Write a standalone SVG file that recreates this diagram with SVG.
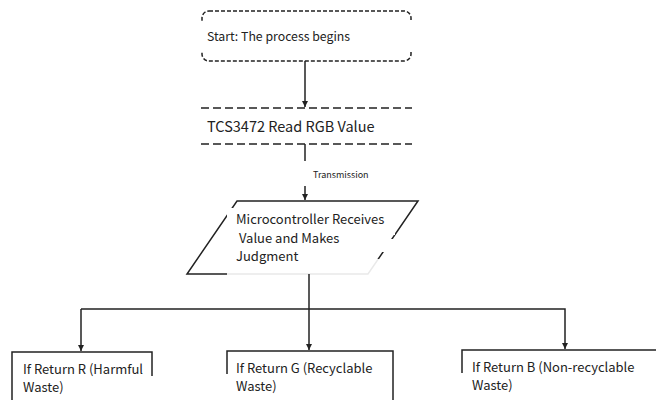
<svg xmlns="http://www.w3.org/2000/svg" width="656" height="400" viewBox="0 0 656 400">
<defs>
<marker id="arr" markerWidth="8" markerHeight="8" refX="6" refY="4" orient="auto" markerUnits="userSpaceOnUse">
<path d="M0,1 L6,4 L0,7 Z" fill="#222"/>
</marker>
<style>
.t{font-family:"Noto Sans CJK SC","Noto Sans",sans-serif;fill:#222}
.s{fill:none;stroke:#222;stroke-width:1.5}
.bg{fill:#fff}
.c{fill:none;stroke:#222;stroke-width:1.5}
</style>
</defs>
<rect width="656" height="400" fill="#fff"/>
<g id="start">
<rect class="s" x="202" y="11" width="209" height="50" rx="7" stroke-dasharray="4 2"/>
<rect class="bg" x="196" y="21" width="222" height="31"/>
<text class="t" x="207" y="41" font-size="12.3">Start: The process begins</text>
</g>
<g id="read">
<line class="s" x1="201" y1="108" x2="412" y2="108" stroke-dasharray="8 4"/>
<line class="s" x1="201" y1="144" x2="412" y2="144" stroke-dasharray="8 4"/>
<text class="t" x="207" y="132" font-size="14.5">TCS3472 Read RGB Value</text>
</g>
<g id="micro">
<polygon class="s" points="237,201 418,201 368,274 187,274"/>
<rect class="bg" x="227" y="208" width="168" height="27"/>
<rect class="bg" x="227" y="239" width="175" height="13"/>
<rect class="bg" x="227" y="259" width="175" height="16" opacity="0.9"/>
<text class="t" x="236" y="224" font-size="13">Microcontroller Receives</text>
<text class="t" x="236" y="243" font-size="13" xml:space="preserve"> Value and Makes</text>
<text class="t" x="236" y="261" font-size="13">Judgment</text>
</g>
<g id="boxR">
<rect class="s" x="12" y="352" width="140" height="60"/>
<rect class="bg" x="20" y="376" width="140" height="30"/>
<text class="t" x="23" y="374" font-size="13">If Return R (Harmful</text>
<text class="t" x="23" y="392" font-size="13">Waste)</text>
</g>
<g id="boxG">
<rect class="s" x="227" y="351" width="166" height="60"/>
<rect class="bg" x="220" y="374" width="165" height="30"/>
<text class="t" x="236" y="373" font-size="13">If Return G (Recyclable</text>
<text class="t" x="236" y="391" font-size="13">Waste)</text>
</g>
<g id="boxB">
<rect class="s" x="462" y="350" width="210" height="60"/>
<rect class="bg" x="455" y="373" width="190" height="30"/>
<text class="t" x="472" y="372" font-size="13">If Return B (Non-recyclable</text>
<text class="t" x="472" y="390" font-size="13">Waste)</text>
</g>
<g id="connectors">
<line class="c" x1="305" y1="61" x2="305" y2="107" marker-end="url(#arr)"/>
<line class="c" x1="305" y1="144" x2="305" y2="161"/>
<line class="c" x1="305" y1="186" x2="305" y2="200" marker-end="url(#arr)"/>
<text class="t" x="313" y="178" font-size="9">Transmission</text>
<line class="c" x1="309" y1="274" x2="309" y2="309"/>
<polyline class="c" points="81,309 565,309 565,349" marker-end="url(#arr)"/>
<line class="c" x1="81" y1="309" x2="81" y2="351" marker-end="url(#arr)"/>
<line class="c" x1="309" y1="309" x2="309" y2="350" marker-end="url(#arr)"/>
</g>
</svg>
